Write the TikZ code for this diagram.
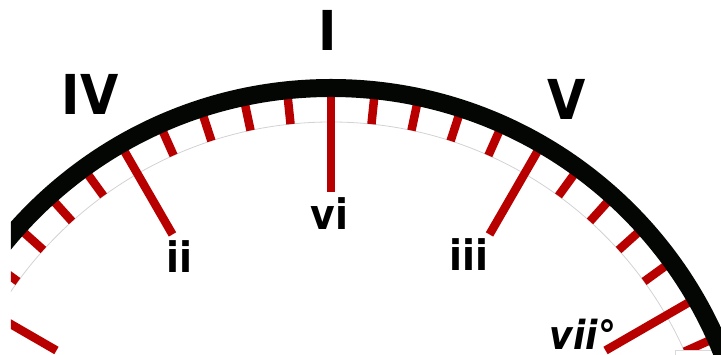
\documentclass[tikz,border=0pt]{standalone}
\usepackage{fontspec}
\setsansfont[FakeStretch=0.9]{DejaVu Sans}
\usetikzlibrary{calc}
\definecolor{tickred}{RGB}{185,0,0}
\definecolor{rimblack}{RGB}{3,6,3}

\begin{document}
\begin{tikzpicture}[
  x=1pt, y=1pt,
  font=\sffamily\bfseries,
  rim/.style={draw=rimblack, line width=18pt},
  guide/.style={draw=gray!35, line width=0.8pt},
  minortick/.style={draw=tickred, line width=8.5pt},
  majortick/.style={draw=tickred, line width=8.5pt},
  outerlabel/.style={anchor=base, font=\sffamily\bfseries\fontsize{55}{60}\selectfont},
  innerlabel/.style={anchor=base, font=\sffamily\bfseries\fontsize{42}{46}\selectfont}
]
  \useasboundingbox (-331,154) rectangle (390,509);

  % Dial face (clipped at the left margin)
  \begin{scope}
    \clip (-320,154) rectangle (390,509);
    \draw[guide] (0:387pt) arc[start angle=0, end angle=180, radius=387pt];
    \foreach \a in {0,6,...,180} {
      \pgfmathtruncatemacro{\m}{mod(\a,30)}
      \ifnum\m=0
        \draw[majortick] (\a:317pt) -- (\a:416pt);
      \else
        \draw[minortick] (\a:387pt) -- (\a:416pt);
      \fi
    }
    \draw[draw=gray!30, fill=white] (344,150) rectangle (400,159);
    \draw[rim] (0:421pt) arc[start angle=0, end angle=180, radius=421pt];
  \end{scope}

  % Outer labels
  \node[outerlabel] (degI) at (-3.5,458) {I};
  \node[outerlabel] (degIV) at (-241,394) {IV};
  \node[outerlabel] (degV) at (236,389) {V};

  % Inner labels
  \node[innerlabel] (degvi) at (-1.5,279) {vi};
  \node[innerlabel] (degii) at (-152,236) {ii};
  \node[innerlabel] (degiii) at (138,238) {iii};
  \node[innerlabel, font=\sffamily\bfseries\itshape\fontsize{40}{44}\selectfont] (degvii) at (252,159) {vii°};
\end{tikzpicture}
\end{document}
